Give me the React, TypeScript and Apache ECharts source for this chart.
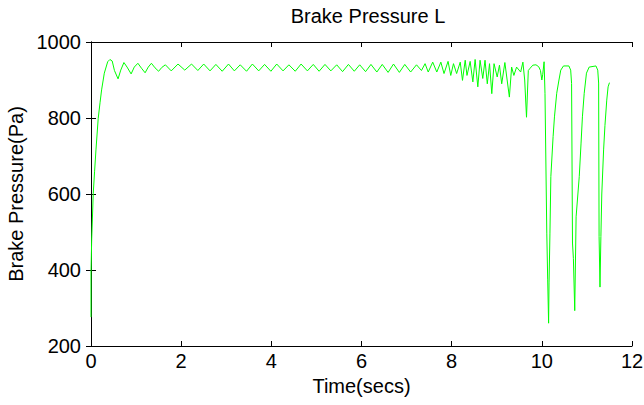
import React, { useEffect, useRef } from "react";
import * as echarts from "echarts";

const titleText = "Brake Pressure L";
const xName = "Time(secs)";
const yName = "Brake Pressure(Pa)";
const xRange = [0, 12];
const xStep = 2;
const yRange = [200, 1000];
const yStep = 200;

// [time (s), pressure (Pa)]
const riseSegment: number[][] = [
  [0, 276], [0.0, 392], [0.015, 479], [0.05, 602], [0.08, 660], [0.11, 716],
  [0.16, 799], [0.2, 840], [0.235, 874], [0.295, 918], [0.37, 948],
];

const settleSegment: number[][] = [
  [0.42, 954], [0.47, 950], [0.52, 925], [0.6, 903], [0.66, 926], [0.73, 946],
  [0.8, 934], [0.89, 916], [0.96, 934], [1.04, 944], [1.12, 931], [1.2, 919],
  [1.27, 934], [1.34, 944], [1.42, 932], [1.5, 923], [1.57, 933], [1.65, 940],
];

const steadySegment: number[][] = [
  [1.78, 924], [1.93, 942], [2.08, 926], [2.23, 942], [2.37, 925], [2.5, 942],
  [2.64, 924], [2.77, 941], [2.91, 923], [3.05, 942], [3.18, 924], [3.31, 940],
  [3.45, 923], [3.58, 942], [3.72, 924], [3.85, 941], [3.99, 923], [4.12, 942],
  [4.26, 924], [4.39, 940], [4.53, 923], [4.66, 942], [4.8, 924], [4.93, 941],
  [5.06, 923], [5.19, 941], [5.32, 924], [5.45, 940], [5.58, 922], [5.71, 941],
  [5.84, 923], [5.96, 940], [6.09, 922], [6.21, 941], [6.34, 921], [6.46, 941],
  [6.59, 920], [6.71, 942], [6.84, 920], [6.96, 941], [7.09, 921],
];

const chatterSegment: number[][] = [
  [7.22, 940], [7.33, 925], [7.41, 943], [7.48, 921], [7.58, 947], [7.67, 921],
  [7.76, 947], [7.83, 917], [7.92, 949], [7.98, 912], [8.04, 943], [8.11, 917],
  [8.19, 947], [8.24, 899], [8.3, 952], [8.34, 912], [8.41, 949], [8.47, 895],
  [8.52, 954], [8.58, 882], [8.63, 952], [8.69, 904], [8.74, 952], [8.79, 890],
  [8.84, 943], [8.89, 864], [8.94, 943], [9.01, 908], [9.06, 939], [9.11, 890],
  [9.18, 946], [9.28, 855], [9.33, 934], [9.38, 912], [9.44, 934], [9.53, 921],
  [9.58, 947], [9.62, 900], [9.66, 802], [9.7, 925], [9.74, 931], [9.8, 939],
  [9.87, 940], [9.93, 935], [9.97, 925], [10.0, 900], [10.02, 915], [10.05, 948],
];

const dropSegment: number[][] = [
  [10.07, 865], [10.11, 497], [10.13, 374], [10.15, 260], [10.16, 366],
  [10.18, 497], [10.2, 646], [10.25, 751], [10.28, 803], [10.33, 865],
  [10.38, 900], [10.42, 926], [10.48, 937], [10.6, 937], [10.64, 926],
  [10.66, 891], [10.68, 471], [10.7, 430], [10.73, 293], [10.76, 540],
  [10.83, 646], [10.87, 734], [10.9, 803], [10.94, 865], [10.99, 918],
  [11.05, 934], [11.2, 937], [11.24, 926], [11.26, 892], [11.27, 488],
  [11.29, 355], [11.31, 488], [11.33, 600], [11.37, 716], [11.4, 780],
  [11.44, 847], [11.47, 882], [11.5, 893],
];

const pressureData = [
  ...riseSegment,
  ...settleSegment,
  ...steadySegment,
  ...chatterSegment,
  ...dropSegment,
];

const FONT = "'Liberation Sans', Arial, sans-serif";
const FS = 20;

export default function App() {
  const ref = useRef<HTMLDivElement>(null);
  useEffect(() => {
    document.body.style.margin = "0";
    const chart = echarts.init(ref.current!, null, { renderer: "svg" });
    const axisCommon = {
      axisLine: { show: true, lineStyle: { color: "#000", width: 1 } },
      axisTick: { show: true, inside: true, length: 5, lineStyle: { color: "#000" } },
      splitLine: { show: false },
    };
    const fmt = (v: number) => String(v);
    chart.setOption({
      animation: false,
      backgroundColor: "#fff",
      title: {
        text: titleText,
        left: 363,
        textAlign: "center",
        top: 1,
        textStyle: { fontFamily: FONT, fontSize: FS, fontWeight: "normal", color: "#000" },
      },
      grid: {
        left: 91,
        right: 12,
        top: 42,
        bottom: 59,
        containLabel: false,
        outerBoundsMode: "none",
      },
      xAxis: [
        {
          type: "value",
          min: xRange[0],
          max: xRange[1],
          interval: xStep,
          position: "bottom",
          name: xName,
          nameLocation: "middle",
          nameGap: 28,
          nameTextStyle: { fontFamily: FONT, fontSize: FS, color: "#000" },
          axisLabel: { fontFamily: FONT, fontSize: FS, color: "#000", margin: 5, formatter: fmt },
          ...axisCommon,
        },
        {
          type: "value",
          min: xRange[0],
          max: xRange[1],
          interval: xStep,
          position: "top",
          axisLabel: { show: false },
          ...axisCommon,
        },
      ],
      yAxis: [
        {
          type: "value",
          min: yRange[0],
          max: yRange[1],
          interval: yStep,
          position: "left",
          name: yName,
          nameLocation: "middle",
          nameGap: 63,
          nameTextStyle: { fontFamily: FONT, fontSize: FS, color: "#000" },
          axisLabel: { fontFamily: FONT, fontSize: FS, color: "#000", margin: 10, formatter: fmt },
          ...axisCommon,
        },
        {
          type: "value",
          min: yRange[0],
          max: yRange[1],
          interval: yStep,
          position: "right",
          axisLabel: { show: false },
          ...axisCommon,
        },
      ],
      series: [
        {
          type: "line",
          data: pressureData,
          showSymbol: false,
          symbol: "none",
          lineStyle: { color: "#00ff00", width: 1 },
          xAxisIndex: 0,
          yAxisIndex: 0,
        },
      ],
    });
    return () => chart.dispose();
  }, []);
  return (
    <div
      ref={ref}
      style={{ position: "fixed", left: 0, top: 0, width: 644, height: 405 }}
    />
  );
}
